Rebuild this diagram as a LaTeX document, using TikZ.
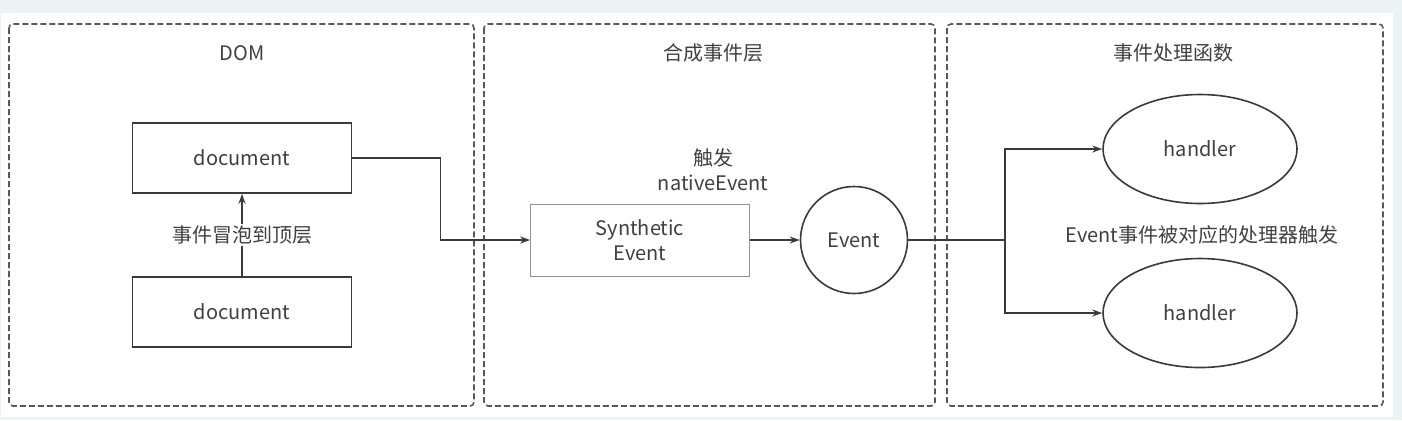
\documentclass[tikz,border=0pt]{standalone}
\usepackage{fontspec}
\setmainfont{Noto Sans CJK SC}
\usetikzlibrary{arrows.meta,shapes.geometric}
\definecolor{pagebg}{HTML}{EAF4F4}
\definecolor{inkgray}{HTML}{3A3A3A}
\definecolor{textgray}{HTML}{404040}
\begin{document}
\begin{tikzpicture}[x=0.5pt,y=-0.5pt,
    font=\fontsize{10}{12.5}\selectfont, text=textgray,
    layer/.style={draw=inkgray!85, line width=0.8pt, dash pattern=on 3pt off 1.5pt, rounded corners=2pt},
    docbox/.style={draw=inkgray, line width=0.8pt, minimum width=109.5pt, minimum height=35pt, inner sep=0pt},
    synbox/.style={draw=inkgray!55, thin, minimum width=109.5pt, minimum height=36pt, inner sep=0pt, align=center},
    evtcircle/.style={draw=inkgray, line width=0.8pt, circle, minimum size=53.5pt, inner sep=0pt},
    handlerellipse/.style={draw=inkgray, line width=0.8pt, ellipse, minimum width=97pt, minimum height=54.5pt, inner sep=0pt},
    flow/.style={draw=inkgray, line width=0.8pt, -{Stealth[length=5pt,width=3.5pt]}},
    link/.style={draw=inkgray, line width=0.8pt}]

    % page
    \fill[pagebg] (0,0) rectangle (1402,420);
    \fill[white] (1,13) rectangle (1393,417);

    % three layers
    \draw[layer] (9,24) rectangle (474,406);
    \draw[layer] (484,24) rectangle (935,406);
    \draw[layer] (947,24) rectangle (1383,406);
    \node (domtitle) at (242,53) {DOM};
    \node (syntitle) at (713,53) {合成事件层};
    \node (hdltitle) at (1173,53) {事件处理函数};

    % DOM
    \node[docbox] (docA) at (242,158) {document};
    \node[docbox] (docB) at (242,312) {document};
    \draw[flow] (docB.north) -- (docA.south)
        node[midway, fill=white, inner sep=1pt] (bubble) {事件冒泡到顶层};

    % synthetic layer
    \node[synbox] (synth) at (640,240) {Synthetic\\Event};
    \node[evtcircle] (evt) at (854,240) {Event};
    \node[align=center] (fire) at (713,170) {触发\\nativeEvent};
    \draw[flow] (docA.east) -- ++(88,0) |- (synth.west);
    \draw[flow] (synth.east) -- (evt.west);

    % handlers
    \node[handlerellipse] (hA) at (1200,149) {handler};
    \node[handlerellipse] (hB) at (1200,313) {handler};
    \node (hnote) at (1202,235) {Event事件被对应的处理器触发};
    \coordinate (split) at (1005,240);
    \draw[link] (evt.east) -- (split);
    \draw[flow] (split) |- (hA.west);
    \draw[flow] (split) |- (hB.west);

\end{tikzpicture}
\end{document}
